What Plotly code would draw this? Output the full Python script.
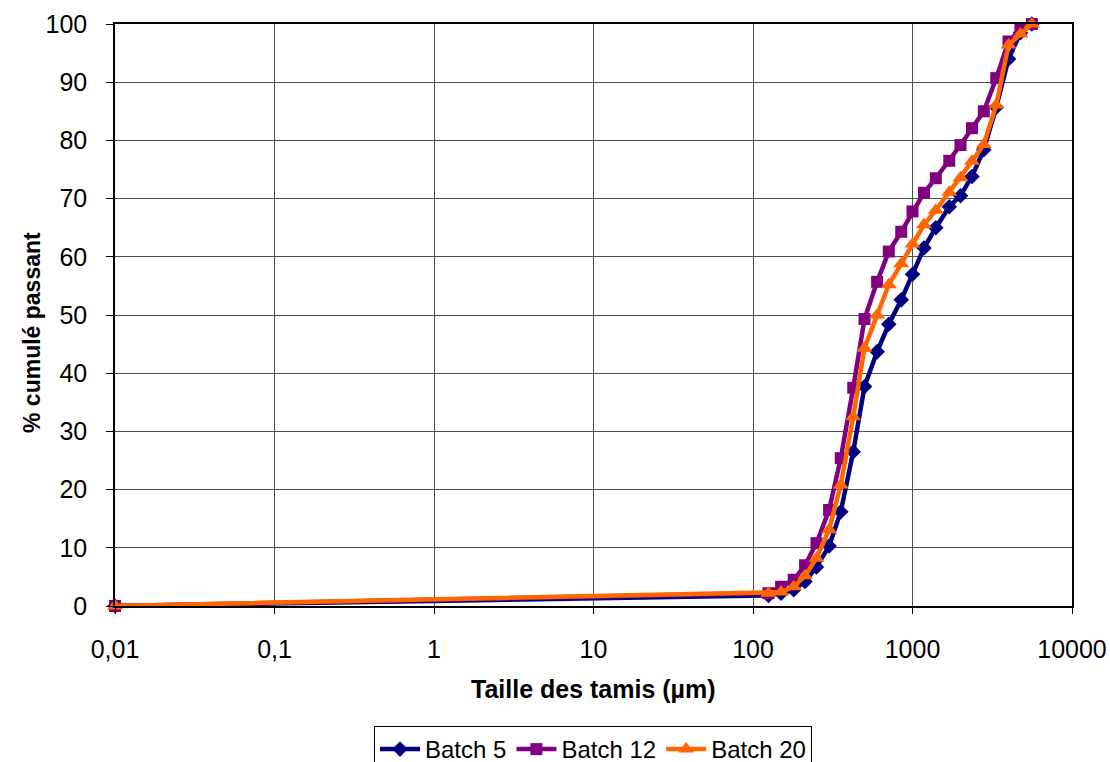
import plotly.graph_objects as go

# Sieve openings (µm); the first value stands in for the pan
sieve_um = [0.01, 125, 150, 180, 212, 250, 300, 355, 425, 500, 600, 710, 850,
            1000, 1180, 1400, 1700, 2000, 2360, 2800, 3350, 4000, 4750, 5600]

# Cumulative % passing for each batch
batch_5 = [0, 1.8, 2.2, 2.8, 4.2, 6.7, 10.3, 16.2, 26.5, 37.7, 43.7, 48.4, 52.6,
           57.0, 61.5, 65.0, 68.6, 70.5, 73.8, 78.4, 85.7, 94.0, 98.5, 100]
batch_12 = [0, 2.2, 3.3, 4.5, 7.0, 10.8, 16.5, 25.4, 37.5, 49.3, 55.7, 60.9, 64.3,
            67.8, 71.0, 73.5, 76.5, 79.2, 82.1, 85.0, 90.7, 97.0, 99.0, 100]
batch_20 = [0, 2.2, 2.4, 3.3, 5.2, 8.2, 13.1, 20.8, 32.5, 44.3, 50.0, 55.2, 58.8,
            62.2, 65.5, 68.0, 71.1, 73.6, 76.4, 79.3, 86.1, 96.4, 98.3, 100]

x_tickvals = [0.01, 0.1, 1, 10, 100, 1000, 10000]
x_ticktext = ["0,01", "0,1", "1", "10", "100", "1000", "10000"]

FONT = "Liberation Sans, Arial, sans-serif"

series = [
    ("Batch 5", batch_5, "#000080", "diamond", 12),
    ("Batch 12", batch_12, "#800080", "square", 12),
    ("Batch 20", batch_20, "#FF6600", "triangle-up", 14),
]

fig = go.Figure()
for name, vals, color, symbol, msize in series:
    fig.add_trace(go.Scatter(
        x=sieve_um, y=vals, name=name, mode="lines+markers",
        line=dict(color=color, width=4.5),
        marker=dict(color=color, symbol=symbol, size=msize, line=dict(width=0)),
        cliponaxis=False,
    ))

W, H = 1110, 762
L, R, T, B = 115, 38, 24, 156
pw, ph = W - L - R, H - T - B


def px_x(px):
    return (px - L) / pw


def px_y(py):
    return (T + ph - py) / ph


fig.update_layout(
    width=W, height=H,
    margin=dict(l=L, r=R, t=T, b=B, autoexpand=False),
    paper_bgcolor="white", plot_bgcolor="white",
    font=dict(family=FONT, size=25, color="black"),
    showlegend=True,
    legend=dict(
        orientation="h", x=px_x(593), xanchor="center",
        y=px_y(726), yanchor="top",
        bordercolor="black", borderwidth=1, bgcolor="white",
        font=dict(family=FONT, size=24, color="black"),
        itemwidth=40, tracegroupgap=0,
    ),
)

fig.update_xaxes(
    type="log", range=[-2, 4],
    tickvals=x_tickvals, ticktext=x_ticktext,
    showgrid=True, gridcolor="#505050", gridwidth=1,
    showline=True, linecolor="black", linewidth=1.5, mirror=True,
    ticks="outside", ticklen=6, tickcolor="black",
    ticklabelstandoff=14,
    tickfont=dict(family=FONT, size=25, color="black"),
    zeroline=False,
)
fig.update_yaxes(
    range=[0, 100], dtick=10, tick0=0,
    showgrid=True, gridcolor="#505050", gridwidth=1,
    showline=True, linecolor="black", linewidth=1.5, mirror=True,
    ticks="outside", ticklen=7, tickcolor="black",
    ticklabelstandoff=14,
    tickfont=dict(family=FONT, size=25, color="black"),
    zeroline=False,
)

# Axis titles
fig.add_annotation(
    text="<b>Taille des tamis (µm)</b>", xref="paper", yref="paper",
    x=px_x(593), y=px_y(689), xanchor="center", yanchor="middle",
    showarrow=False, font=dict(family=FONT, size=25, color="black"),
)
fig.add_annotation(
    text="<b>% cumulé passant</b>", xref="paper", yref="paper",
    x=px_x(32), y=px_y(333), xanchor="center", yanchor="middle",
    textangle=-90, showarrow=False, font=dict(family=FONT, size=23, color="black"),
)

fig.write_html("out.html")
